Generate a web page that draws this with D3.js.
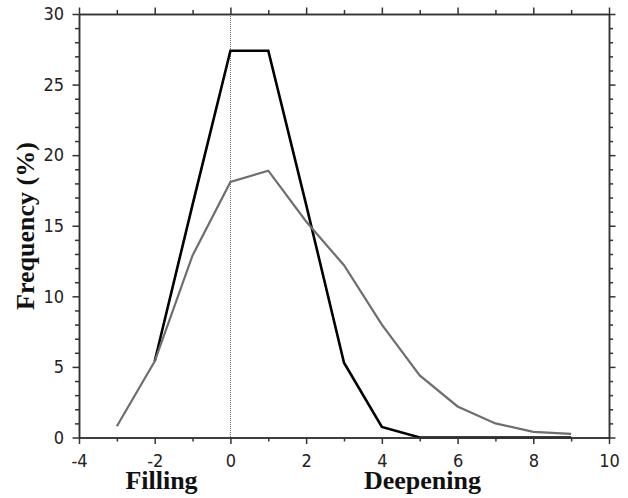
<!DOCTYPE html>
<html>
<head>
<meta charset="utf-8">
<script src="https://cdn.jsdelivr.net/npm/d3@7"></script>
<style>
  html, body { margin: 0; padding: 0; background: #fff; }
  svg { display: block; }
  .tick text { font-family: "DejaVu Sans Condensed", "DejaVu Sans", sans-serif; font-size: 18px; fill: #222; }
  .axis path, .axis line { stroke: #333; stroke-width: 1.5; }
  .title { font-family: "Liberation Serif", "Times New Roman", serif; font-weight: bold; font-size: 26px; fill: #111; }
</style>
</head>
<body>
<svg id="chart" width="628" height="498"></svg>
<script>
// change classes (x) and frequency (%) of the two curves
var classes = [-3, -2, -1, 0, 1, 2, 3, 4, 5, 6, 7, 8, 9];
var blackSeries = [null, 5.4, 16.5, 27.4, 27.4, 16.5, 5.3, 0.75, 0, 0, 0, 0, 0];
var graySeries = [0.8, 5.4, 12.9, 18.1, 18.9, 15.3, 12.2, 8.0, 4.4, 2.2, 1.0, 0.4, 0.25];

var xMajorTicks = [-4, -2, 0, 2, 4, 6, 8, 10];
var xMinorTicks = [-3, -1, 1, 3, 5, 7, 9];
var yMajorTicks = [0, 5, 10, 15, 20, 25, 30];
var yMinorTicks = d3.range(0, 31).filter(function(v) { return v % 5 !== 0; });

var svg = d3.select("#chart");
var margin = { top: 14, right: 19, bottom: 60.5, left: 79 };
var width = 628 - margin.left - margin.right;
var height = 498 - margin.top - margin.bottom;

var plot = svg.append("g")
  .attr("transform", translate(margin.left, margin.top));

var x = d3.scaleLinear().domain([-4, 10]).range([0, width]);
var y = d3.scaleLinear().domain([0, 30]).range([height, 0]);

// dotted line at zero
plot.append("line")
  .attr("x1", x(0)).attr("x2", x(0))
  .attr("y1", 0).attr("y2", height)
  .attr("stroke", "#666")
  .attr("stroke-width", 1)
  .attr("stroke-dasharray", "1,1");

function pairs(values) {
  return classes.map(function(c, i) { return { x: c, y: values[i] }; })
    .filter(function(d) { return d.y !== null; });
}

var line = d3.line()
  .x(function(d) { return x(d.x); })
  .y(function(d) { return y(d.y); });

plot.append("path")
  .datum(pairs(blackSeries))
  .attr("fill", "none")
  .attr("stroke", "#000")
  .attr("stroke-width", 2.6)
  .attr("d", line);

plot.append("path")
  .datum(pairs(graySeries))
  .attr("fill", "none")
  .attr("stroke", "#6e6e6e")
  .attr("stroke-width", 2.2)
  .attr("d", line);

// axes: major ticks with labels, minor ticks without
function addAxis(axisFn, scale, major, minor, tf, showLabels) {
  var g = plot.append("g").attr("class", "axis").attr("transform", tf);
  g.call(axisFn(scale).tickValues(minor).tickSize(4).tickSizeOuter(0).tickFormat(""));
  var m = plot.append("g").attr("class", "axis").attr("transform", tf);
  m.call(axisFn(scale).tickValues(major).tickSize(6.5).tickSizeOuter(0)
    .tickFormat(showLabels ? function(d) { return String(d); } : ""));
  return m;
}

var bottomAxis = addAxis(d3.axisBottom, x, xMajorTicks, xMinorTicks, translate(0, height), true);
bottomAxis.selectAll(".tick text").attr("y", 17);
addAxis(d3.axisTop, x, xMajorTicks, xMinorTicks, translate(0, 0), false);
var leftAxis = addAxis(d3.axisLeft, y, yMajorTicks, yMinorTicks, translate(0, 0), true);
leftAxis.selectAll(".tick text").attr("x", -15);
addAxis(d3.axisRight, y, yMajorTicks, yMinorTicks, translate(width, 0), false);

// labels
svg.append("text")
  .attr("class", "title")
  .attr("text-anchor", "middle")
  .attr("transform", "translate(33.5," + 226 + ") rotate(-90)")
  .text("Frequency (%)");

svg.append("text")
  .attr("class", "title")
  .attr("text-anchor", "middle")
  .attr("x", 161.5)
  .attr("y", 489)
  .text("Filling");

svg.append("text")
  .attr("class", "title")
  .attr("text-anchor", "middle")
  .attr("x", 422.5)
  .attr("y", 489)
  .text("Deepening");

function translate(x, y) {
  return "translate(" + x + "," + y + ")";
}
</script>
</body>
</html>
